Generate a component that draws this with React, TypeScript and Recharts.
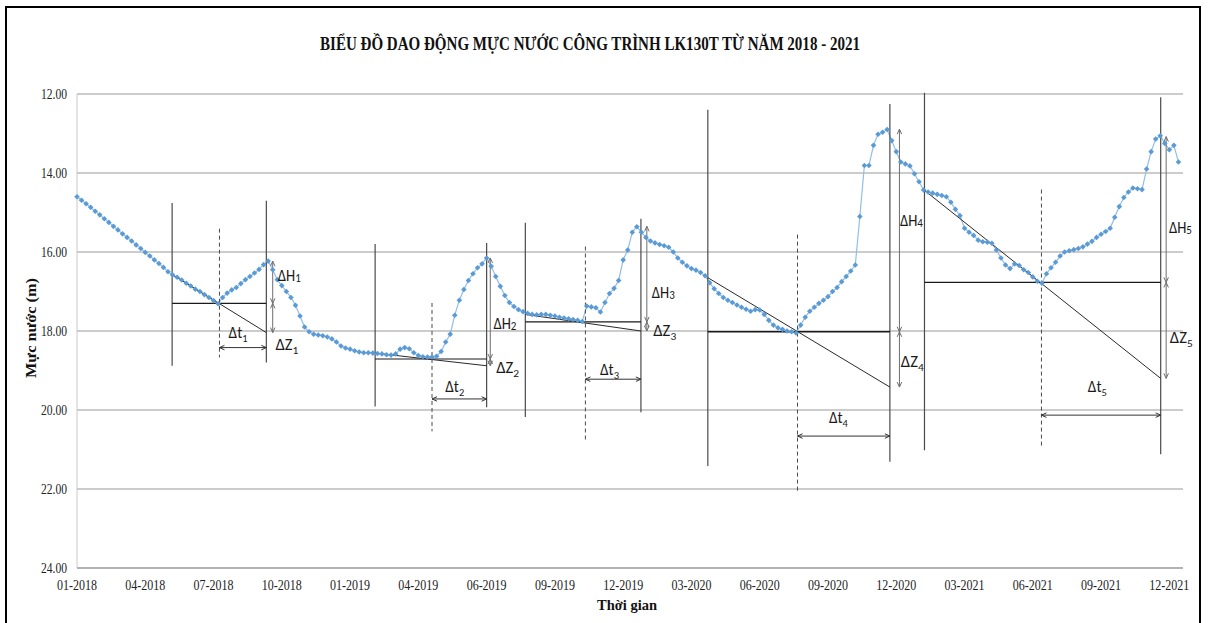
import React from "react";
import {
  LineChart,
  Line,
  XAxis,
  YAxis,
  CartesianGrid,
  ReferenceLine,
  ReferenceDot,
} from "recharts";

const levels = [
  14.6, 14.69, 14.78, 14.87, 14.97, 15.06, 15.16, 15.25, 15.35, 15.44,
  15.54, 15.63, 15.72, 15.82, 15.91, 16.01, 16.1, 16.2, 16.29, 16.39,
  16.5, 16.58, 16.64, 16.71, 16.79, 16.86, 16.94, 17.0, 17.08, 17.15,
  17.23, 17.31, 17.15, 17.04, 16.96, 16.9, 16.8, 16.7, 16.62, 16.53,
  16.44, 16.32, 16.23, 16.45, 16.7, 16.85, 17.0, 17.15, 17.35, 17.62,
  17.9, 18.02, 18.08, 18.1, 18.12, 18.15, 18.2, 18.28, 18.38, 18.43,
  18.46, 18.5, 18.53, 18.55, 18.55, 18.56, 18.57, 18.58, 18.6, 18.61,
  18.58, 18.46, 18.42, 18.45, 18.55, 18.62, 18.65, 18.66, 18.66, 18.64,
  18.52, 18.28, 18.08, 17.6, 17.22, 16.95, 16.72, 16.55, 16.4, 16.3,
  16.15, 16.36, 16.62, 16.87, 17.1, 17.28, 17.38, 17.46, 17.51, 17.55,
  17.58, 17.59, 17.58, 17.58, 17.6, 17.62, 17.65, 17.67, 17.69, 17.71,
  17.73, 17.76, 17.37, 17.39, 17.41, 17.52, 17.28, 17.05, 16.92, 16.72,
  16.2, 15.95, 15.5, 15.36, 15.5, 15.63, 15.72, 15.77, 15.81, 15.84,
  15.88, 16.0, 16.15, 16.26, 16.35, 16.42, 16.46, 16.52, 16.6, 16.78,
  16.93, 17.05, 17.15, 17.22, 17.28, 17.34, 17.4, 17.45, 17.5, 17.46,
  17.47, 17.58, 17.73, 17.85, 17.92, 17.96, 18.0, 18.02, 18.05, 17.85,
  17.65, 17.5, 17.4, 17.3, 17.22, 17.13, 17.0, 16.9, 16.75, 16.62,
  16.48, 16.33, 15.1, 13.81, 13.81, 13.3, 13.02, 12.97, 12.9, 13.18,
  13.46, 13.72, 13.77, 13.82, 14.02, 14.22, 14.43, 14.48, 14.51, 14.54,
  14.57, 14.6, 14.74, 14.92, 15.08, 15.4, 15.5, 15.58, 15.7, 15.74,
  15.75, 15.78, 15.95, 16.15, 16.33, 16.42, 16.3, 16.34, 16.45, 16.52,
  16.63, 16.74, 16.79, 16.55, 16.4, 16.26, 16.1, 16.0, 15.97, 15.94,
  15.91, 15.87, 15.8, 15.73, 15.63, 15.55, 15.48, 15.4, 15.12, 14.85,
  14.62, 14.48, 14.38, 14.4, 14.42, 13.9, 13.46, 13.14, 13.06, 13.25,
  13.41, 13.3, 13.72,
];

const tickLabels = [
  "01-2018", "04-2018", "07-2018", "10-2018", "01-2019", "04-2019",
  "06-2019", "09-2019", "12-2019", "03-2020", "06-2020", "09-2020",
  "12-2020", "03-2021", "06-2021", "09-2021", "12-2021",
];
const pointsPerLabel = 15;
const lastIndex = 243;
const yTicks = [12, 14, 16, 18, 20, 22, 24];

// construction lines of the recession analysis, in axis units (observation index, m)
const solidVerticals = [
  { x: 20.9, top: 14.76, bottom: 18.88 },
  { x: 41.6, top: 14.7, bottom: 18.8 },
  { x: 65.5, top: 15.8, bottom: 19.91 },
  { x: 90.0, top: 15.77, bottom: 19.93 },
  { x: 98.5, top: 15.26, bottom: 20.18 },
  { x: 123.9, top: 15.16, bottom: 20.06 },
  { x: 138.6, top: 12.4, bottom: 21.42 },
  { x: 178.6, top: 12.25, bottom: 21.31 },
  { x: 186.2, top: 11.97, bottom: 21.02 },
  { x: 238.1, top: 12.08, bottom: 21.12 },
];
const dashedVerticals = [
  { x: 31.3, top: 15.41, bottom: 18.67 },
  { x: 78.0, top: 17.29, bottom: 20.54 },
  { x: 111.7, top: 15.86, bottom: 20.77 },
  { x: 158.3, top: 15.56, bottom: 22.07 },
  { x: 211.9, top: 14.42, bottom: 20.96 },
];
const baseLevels = [
  { from: 20.9, to: 41.6, y: 17.3 },
  { from: 65.5, to: 90.0, y: 18.71 },
  { from: 98.5, to: 123.9, y: 17.77 },
  { from: 138.6, to: 178.6, y: 18.02 },
  { from: 186.2, to: 238.1, y: 16.77 },
];
const trendLines = [
  { x1: 20.9, y1: 16.57, x2: 41.6, y2: 18.04 },
  { x1: 65.5, y1: 18.56, x2: 90.0, y2: 18.88 },
  { x1: 98.5, y1: 17.58, x2: 123.9, y2: 18.0 },
  { x1: 138.6, y1: 16.65, x2: 178.6, y2: 19.42 },
  { x1: 186.2, y1: 14.44, x2: 238.1, y2: 19.2 },
];
// ΔH goes peak -> base level, ΔZ goes base level -> end of trend line
const riseArrows = [
  { x: 43.0, peak: 16.23, base: 17.3, trend: 18.04 },
  { x: 90.8, peak: 16.15, base: 18.71, trend: 18.88 },
  { x: 125.2, peak: 15.35, base: 17.77, trend: 18.0 },
  { x: 180.7, peak: 12.89, base: 18.02, trend: 19.42 },
  { x: 239.3, peak: 13.08, base: 16.77, trend: 19.2 },
];
const periodArrows = [
  { from: 31.3, to: 41.6, y: 18.42 },
  { from: 78.0, to: 90.0, y: 19.72 },
  { from: 111.7, to: 123.9, y: 19.22 },
  { from: 158.3, to: 178.6, y: 20.66 },
  { from: 211.9, to: 238.1, y: 20.13 },
];
const deltaLabels = [
  { x: 44.1, y: 16.59, sym: "H", n: "1" },
  { x: 43.6, y: 18.33, sym: "Z", n: "1" },
  { x: 33.3, y: 18.02, sym: "t", n: "1" },
  { x: 91.5, y: 17.81, sym: "H", n: "2" },
  { x: 92.1, y: 18.92, sym: "Z", n: "2" },
  { x: 80.9, y: 19.4, sym: "t", n: "2" },
  { x: 126.3, y: 17.01, sym: "H", n: "3" },
  { x: 126.6, y: 17.97, sym: "Z", n: "3" },
  { x: 114.9, y: 18.97, sym: "t", n: "3" },
  { x: 180.8, y: 15.2, sym: "H", n: "4" },
  { x: 181.0, y: 18.77, sym: "Z", n: "4" },
  { x: 165.2, y: 20.18, sym: "t", n: "4" },
  { x: 239.9, y: 15.37, sym: "H", n: "5" },
  { x: 240.1, y: 18.15, sym: "Z", n: "5" },
  { x: 222.1, y: 19.4, sym: "t", n: "5" },
];

const data = levels.map((level, i) => ({ i, level }));
const xTicks = tickLabels.map((_, k) => k * pointsPerLabel);

const serif = "'Liberation Serif', 'Times New Roman', serif";
const labelFont = "Carlito, 'Liberation Sans Narrow', Lato, sans-serif";

function arrowShape(color: string) {
  return (props: any) => {
    const { x1, y1, x2, y2 } = props;
    const a = Math.atan2(y2 - y1, x2 - x1);
    const h = 5.5;
    const w = 0.42;
    const head = (x: number, y: number, ang: number) =>
      `M${x + h * Math.cos(ang - w)},${y + h * Math.sin(ang - w)}L${x},${y}L${
        x + h * Math.cos(ang + w)
      },${y + h * Math.sin(ang + w)}`;
    return (
      <g>
        <line x1={x1} y1={y1} x2={x2} y2={y2} stroke={color} strokeWidth={1} />
        <path
          d={head(x1, y1, a) + head(x2, y2, a + Math.PI)}
          fill="none"
          stroke={color}
          strokeWidth={1}
        />
      </g>
    );
  };
}

function labelShape(sym: string, n: string) {
  return (props: any) => (
    <text
      x={props.cx}
      y={props.cy}
      dy="0.36em"
      fontFamily={labelFont}
      fontSize={16}
      textLength={sym === "t" ? 19 : 23}
      lengthAdjust="spacingAndGlyphs"
      fill="#1a1a1a"
    >
      <tspan>{"Δ" + sym}</tspan>
      <tspan fontSize={sym === "H" ? 12 : 11} dy={sym === "H" ? 1 : 4}>
        {n}
      </tspan>
    </text>
  );
}

const Diamond = (props: any) => {
  const { cx, cy, index } = props;
  if (cx == null || cy == null) return <g key={index} />;
  const s = 2.8;
  return (
    <path
      key={index}
      d={`M${cx},${cy - s}L${cx + s},${cy}L${cx},${cy + s}L${cx - s},${cy}Z`}
      fill="#5b9bd5"
    />
  );
};

const XTick = (props: any) => {
  const { x, y, payload } = props;
  return (
    <text
      x={x}
      y={y}
      dy={16}
      textAnchor="middle"
      fontFamily={serif}
      fontSize={15}
      textLength={40}
      lengthAdjust="spacingAndGlyphs"
      fill="#222"
    >
      {tickLabels[Math.round(payload.value / pointsPerLabel)]}
    </text>
  );
};

const YTick = (props: any) => {
  const { x, y, payload } = props;
  return (
    <text
      x={x}
      y={y}
      dy={5}
      textAnchor="end"
      fontFamily={serif}
      fontSize={15}
      textLength={26}
      lengthAdjust="spacingAndGlyphs"
      fill="#222"
    >
      {payload.value.toFixed(2)}
    </text>
  );
};

export default function App() {
  return (
    <div
      style={{
        position: "absolute",
        left: 0,
        top: 0,
        width: 1208,
        height: 623,
        overflow: "hidden",
        background: "#fff",
      }}
    >
      <div
        style={{
          position: "absolute",
          left: 5,
          top: 6,
          width: 1196,
          height: 700,
          border: "2.5px solid #000",
          boxSizing: "border-box",
        }}
      />
      <div style={{ position: "absolute", left: 0, top: 0 }}>
        <LineChart
          width={1208}
          height={623}
          data={data}
          margin={{ top: 94, right: 25, bottom: 25, left: 0 }}
        >
          <CartesianGrid vertical={false} stroke="#999" />
          <XAxis
            dataKey="i"
            type="number"
            domain={[0, lastIndex]}
            ticks={xTicks}
            interval={0}
            height={30}
            tickLine={false}
            tickSize={0}
            tickMargin={6}
            axisLine={{ stroke: "#999" }}
            tick={<XTick />}
          />
          <YAxis
            type="number"
            reversed
            domain={[12, 24]}
            ticks={yTicks}
            interval={0}
            width={77}
            tickLine={false}
            tickSize={0}
            tickMargin={10}
            axisLine={{ stroke: "#c8c8c8" }}
            tick={<YTick />}
          />
          <Line
            dataKey="level"
            stroke="#92bde9"
            strokeWidth={1.2}
            dot={Diamond}
            activeDot={false}
            isAnimationActive={false}
          />
          {solidVerticals.map((v, k) => (
            <ReferenceLine
              key={`sv${k}`}
              segment={[
                { x: v.x, y: v.top },
                { x: v.x, y: v.bottom },
              ]}
              stroke="#4a4a4a"
              strokeWidth={1.2}
              ifOverflow="visible"
            />
          ))}
          {dashedVerticals.map((v, k) => (
            <ReferenceLine
              key={`dv${k}`}
              segment={[
                { x: v.x, y: v.top },
                { x: v.x, y: v.bottom },
              ]}
              stroke="#4a4a4a"
              strokeDasharray="4 3"
              ifOverflow="visible"
            />
          ))}
          {baseLevels.map((b, k) => (
            <ReferenceLine
              key={`bl${k}`}
              segment={[
                { x: b.from, y: b.y },
                { x: b.to, y: b.y },
              ]}
              stroke="#1a1a1a"
              strokeWidth={k === 3 ? 1.6 : 1.1}
              ifOverflow="visible"
            />
          ))}
          {trendLines.map((t, k) => (
            <ReferenceLine
              key={`tl${k}`}
              segment={[
                { x: t.x1, y: t.y1 },
                { x: t.x2, y: t.y2 },
              ]}
              stroke="#2a2a2a"
              strokeWidth={1}
              ifOverflow="visible"
            />
          ))}
          {riseArrows.map((r, k) => (
            <ReferenceLine
              key={`dh${k}`}
              segment={[
                { x: r.x, y: r.peak },
                { x: r.x, y: r.base },
              ]}
              shape={arrowShape("#6e6e6e")}
              ifOverflow="visible"
            />
          ))}
          {riseArrows.map((r, k) => (
            <ReferenceLine
              key={`dz${k}`}
              segment={[
                { x: r.x, y: r.base },
                { x: r.x, y: r.trend },
              ]}
              shape={arrowShape("#6e6e6e")}
              ifOverflow="visible"
            />
          ))}
          {periodArrows.map((p, k) => (
            <ReferenceLine
              key={`dt${k}`}
              segment={[
                { x: p.from, y: p.y },
                { x: p.to, y: p.y },
              ]}
              shape={arrowShape("#333")}
              ifOverflow="visible"
            />
          ))}
          {deltaLabels.map((l, k) => (
            <ReferenceDot
              key={`lb${k}`}
              x={l.x}
              y={l.y}
              r={0}
              ifOverflow="visible"
              shape={labelShape(l.sym, l.n)}
            />
          ))}
        </LineChart>
      </div>
      <svg
        width={1208}
        height={623}
        style={{ position: "absolute", left: 0, top: 0, pointerEvents: "none" }}
      >
        <text
          x={590}
          y={50}
          textAnchor="middle"
          fontFamily={serif}
          fontWeight="bold"
          fontSize={19}
          textLength={540}
          lengthAdjust="spacingAndGlyphs"
          fill="#111"
        >
          BIỂU ĐỒ DAO ĐỘNG MỰC NƯỚC CÔNG TRÌNH LK130T TỪ NĂM 2018 - 2021
        </text>
        <text
          x={627}
          y={610}
          textAnchor="middle"
          fontFamily={serif}
          fontWeight="bold"
          fontSize={15}
          textLength={60}
          lengthAdjust="spacingAndGlyphs"
          fill="#111"
        >
          Thời gian
        </text>
        <text
          x={31}
          y={328}
          dy="0.35em"
          textAnchor="middle"
          transform="rotate(-90 31 328)"
          fontFamily={serif}
          fontWeight="bold"
          fontSize={15}
          textLength={100}
          lengthAdjust="spacingAndGlyphs"
          fill="#111"
        >
          Mực nước (m)
        </text>
      </svg>
    </div>
  );
}
